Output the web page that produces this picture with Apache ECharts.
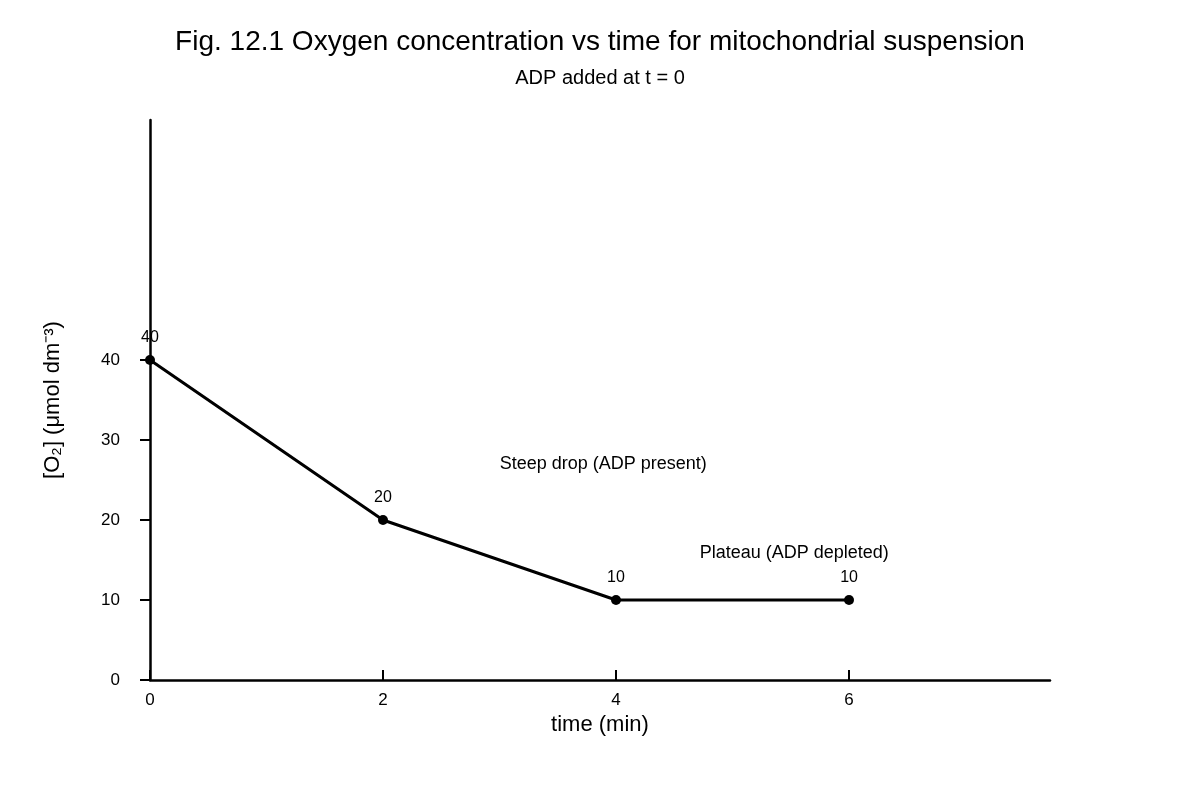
<!DOCTYPE html>
<html>
<head>
<meta charset="utf-8">
<title>Oxygen concentration vs time</title>
<script src="https://cdn.jsdelivr.net/npm/echarts@6/dist/echarts.min.js"></script>
<style>
  html, body { margin: 0; padding: 0; background: #fff; }
  #main { width: 1200px; height: 800px; }
</style>
</head>
<body>
<div id="main"></div>
<script>
// datos
var times = [0, 2, 4, 6];
var oxygen = [40, 20, 10, 10];
var xTicks = [0, 2, 4, 6];
var yTicks = [0, 10, 20, 30, 40];
var notes = ['Steep drop (ADP present)', 'Plateau (ADP depleted)'];
var notesX = [3.89, 5.53];
var notesY = [27, 15.9];

var myChart = echarts.init(document.getElementById('main'));
window.onresize = function() {
  myChart.resize();
};

var font = 'Liberation Sans, Arial, sans-serif';

var option = {
  backgroundColor: '#fff',
  textStyle: { fontFamily: font },
  title: {
    text: 'Fig. 12.1 Oxygen concentration vs time for mitochondrial suspension',
    subtext: 'ADP added at t = 0',
    left: 'center',
    top: 23,
    itemGap: 12,
    textStyle: { fontFamily: font, fontSize: 28, fontWeight: 'normal', color: '#000' },
    subtextStyle: { fontFamily: font, fontSize: 20, color: '#000' }
  },
  grid: { left: 150, right: 150, top: 120, bottom: 120 },
  xAxis: {
    type: 'value',
    min: 0,
    max: 7.725,
    name: 'time (min)',
    nameLocation: 'middle',
    nameGap: 32,
    nameTextStyle: { fontFamily: font, fontSize: 22, color: '#000' },
    splitLine: { show: false },
    axisLine: { lineStyle: { color: '#000', width: 2.5 } },
    axisTick: { show: true, inside: true, length: 10, lineStyle: { color: '#000', width: 2 }, customValues: xTicks },
    axisLabel: { fontFamily: font, fontSize: 17, color: '#000', margin: 12, customValues: xTicks }
  },
  yAxis: {
    type: 'value',
    min: 0,
    max: 70,
    name: '[O\u2082] (\u03bcmol dm\u207b\u00b3)',
    nameLocation: 'middle',
    nameGap: 86,
    nameTextStyle: { fontFamily: font, fontSize: 22, color: '#000' },
    splitLine: { show: false },
    axisLine: { show: true, lineStyle: { color: '#000', width: 2.5 } },
    axisTick: { show: true, length: 10, lineStyle: { color: '#000', width: 2 }, customValues: yTicks },
    axisLabel: { fontFamily: font, fontSize: 17, color: '#000', margin: 30, customValues: yTicks }
  },
  series: [
    {
      type: 'line',
      data: times.map(function(t, i) { return [t, oxygen[i]]; }),
      symbol: 'circle',
      symbolSize: 10,
      lineStyle: { color: '#000', width: 3 },
      itemStyle: { color: '#000' },
      label: {
        show: true,
        position: 'top',
        distance: 9,
        fontFamily: font,
        fontSize: 16,
        color: '#000'
      },
      markPoint: {
        symbol: 'circle',
        symbolSize: 0,
        label: {
          show: true,
          position: 'inside',
          fontFamily: font,
          fontSize: 18,
          color: '#000',
          formatter: function(p) { return p.name; }
        },
        data: notes.map(function(n, i) {
          return { name: n, coord: [notesX[i], notesY[i]] };
        })
      },
      silent: true,
      z: 3
    }
  ]
};

option && myChart.setOption(option);
</script>
</body>
</html>
